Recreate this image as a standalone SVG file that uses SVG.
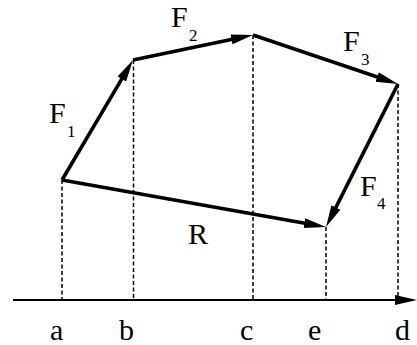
<svg xmlns="http://www.w3.org/2000/svg" width="417" height="345" viewBox="0 0 417 345">
<defs>
<style>
.vec{stroke:#000;stroke-width:3.6;fill:none;marker-end:url(#ah)}
.dash{stroke:#000;stroke-width:1.5;stroke-dasharray:4,2.5;fill:none}
.axis{stroke:#000;stroke-width:2;fill:none;marker-end:url(#ax)}
</style>
<marker id="ah" markerUnits="userSpaceOnUse" markerWidth="24" markerHeight="12" viewBox="0 -6 24 12" refX="12" refY="0" orient="auto">
<path d="M0,-5 L22,0 L0,5 z" fill="#000"/>
</marker>
<marker id="ax" markerUnits="userSpaceOnUse" markerWidth="24" markerHeight="12" viewBox="0 -6 24 12" refX="10" refY="0" orient="auto">
<path d="M0,-5 L22,0 L0,5 z" fill="#000"/>
</marker>
</defs>
<g id="axis">
<line class="axis" x1="13" y1="300" x2="405" y2="300"/>
</g>
<g id="projections">
<line class="dash" x1="62" y1="180" x2="62" y2="300"/>
<line class="dash" x1="133.5" y1="60" x2="133.5" y2="300"/>
<line class="dash" x1="253" y1="35" x2="253" y2="300"/>
<line class="dash" x1="326" y1="227" x2="326" y2="300"/>
<line class="dash" x1="398" y1="84" x2="398" y2="300"/>
</g>
<g id="connectors">
<line id="F1" class="vec" x1="62" y1="180" x2="127.9" y2="68.6"/>
<line id="F2" class="vec" x1="133" y1="60" x2="243.2" y2="37.0"/>
<line id="F3" class="vec" x1="253" y1="35" x2="388.5" y2="80.8"/>
<line id="F4" class="vec" x1="398" y1="84" x2="330.5" y2="218.1"/>
<line id="R" class="vec" x1="62" y1="180" x2="316.2" y2="225.2"/>
</g>
<g font-family="'Liberation Serif', 'Times New Roman', serif" fill="#000" font-size="30">
<g id="label-F1"><text x="49" y="123">F</text><text font-size="17" x="67" y="137">1</text></g>
<g id="label-F2"><text x="171" y="27">F</text><text font-size="17" x="189" y="41">2</text></g>
<g id="label-F3"><text x="343" y="51">F</text><text font-size="17" x="361" y="65">3</text></g>
<g id="label-F4"><text x="360" y="196">F</text><text font-size="17" x="377" y="209">4</text></g>
<g id="label-R"><text x="188" y="244">R</text></g>
<g id="axis-labels">
<text x="50" y="340">a</text>
<text x="119" y="340">b</text>
<text x="240" y="340">c</text>
<text x="308" y="340">e</text>
<text x="395" y="340">d</text>
</g>
</g>
</svg>
